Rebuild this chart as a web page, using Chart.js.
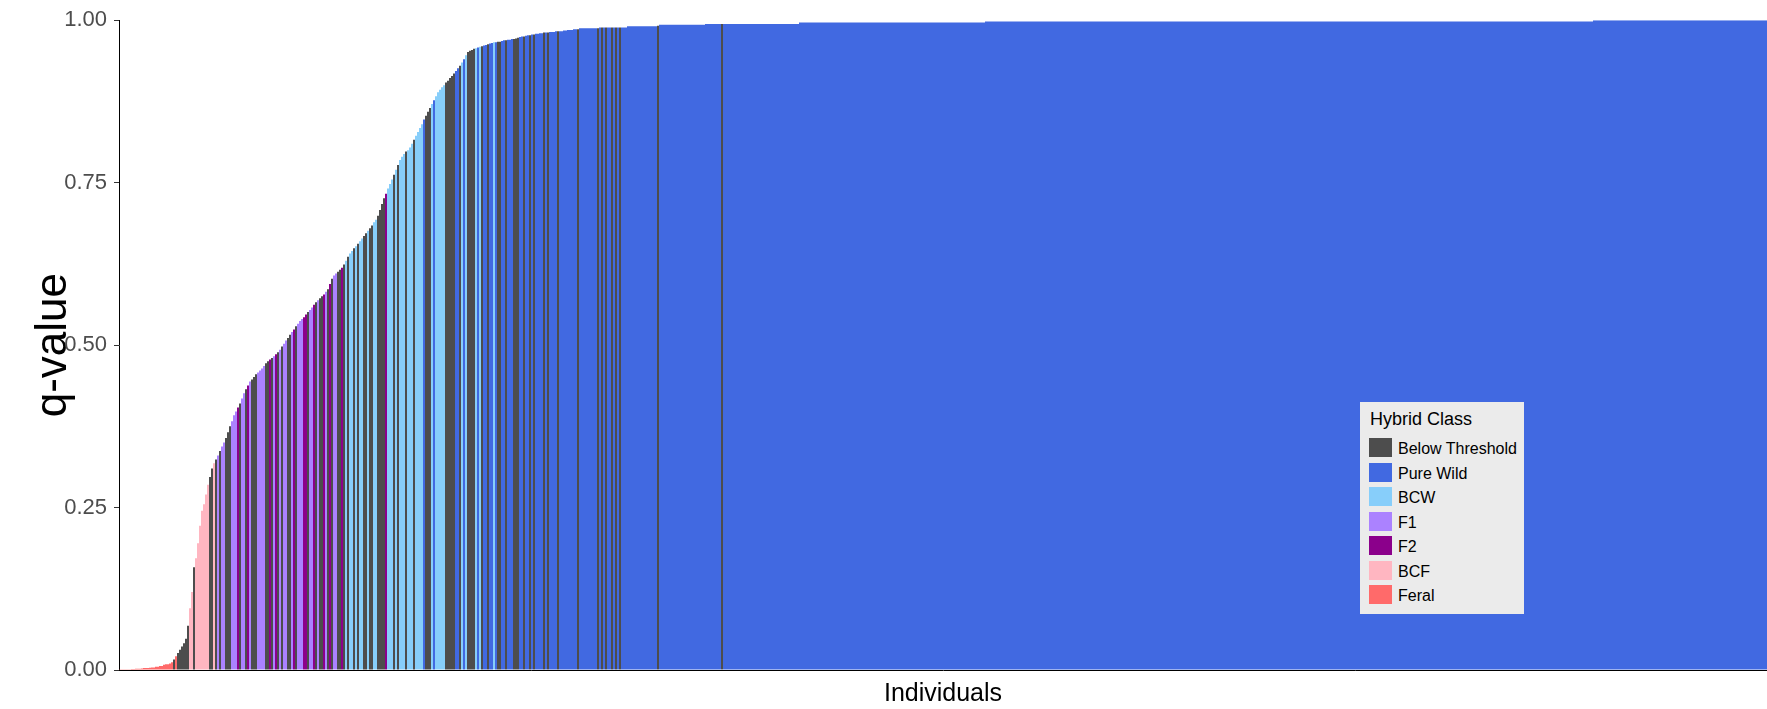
<!DOCTYPE html>
<html><head><meta charset="utf-8">
<script src="https://cdn.jsdelivr.net/npm/chart.js@4.4.1/dist/chart.umd.min.js"></script>
<style>
html,body{margin:0;padding:0;background:#fff;}
#wrap{position:relative;width:1767px;height:709px;overflow:hidden;}
canvas{display:block;}
#legend{position:absolute;left:1360px;top:402px;width:164px;height:212px;background:#ebebeb;font-family:"Liberation Sans",Arial,sans-serif;color:#000;}
#legend .ttl{position:absolute;left:10px;top:7px;font-size:18px;line-height:20px;white-space:nowrap;}
#legend .sw{position:absolute;left:9px;width:23px;height:19px;}
#legend .lb{position:absolute;left:38px;font-size:16px;line-height:19px;white-space:nowrap;}
</style></head><body>
<div id="wrap"><canvas id="c" width="1767" height="709"></canvas><div id="legend"></div></div>
<script>
// ---- DATA ----
const classNames = ['Below Threshold','Pure Wild','BCW','F1','F2','BCF','Feral'];
const classCodes = ['D','W','B','1','2','P','R'];

// individuals on the rising part of the curve (one value per individual, sorted)
const riseQ = [
0.001,0.001,0.001,0.001,0.001,0.001,0.0015,0.0015,0.002,0.002,
0.002,0.0025,0.003,0.003,0.003,0.0035,0.004,0.004,0.005,0.005,
0.006,0.006,0.008,0.009,0.009,0.01,0.012,0.016,0.021,0.026,
0.031,0.036,0.041,0.048,0.068,0.095,0.12,0.158,0.172,0.195,
0.222,0.245,0.255,0.27,0.285,0.297,0.31,0.318,0.324,0.33,
0.337,0.344,0.35,0.357,0.366,0.375,0.383,0.392,0.398,0.404,
0.41,0.418,0.426,0.432,0.438,0.444,0.447,0.451,0.455,0.458,
0.461,0.464,0.468,0.472,0.475,0.478,0.48,0.483,0.486,0.489,
0.493,0.498,0.502,0.507,0.511,0.516,0.52,0.524,0.529,0.533,
0.537,0.54,0.543,0.547,0.551,0.554,0.558,0.562,0.566,0.569,
0.572,0.575,0.578,0.582,0.586,0.594,0.602,0.607,0.61,0.613,
0.616,0.619,0.624,0.63,0.636,0.641,0.645,0.649,0.652,0.656,
0.66,0.664,0.668,0.672,0.676,0.68,0.684,0.689,0.693,0.699,
0.708,0.717,0.726,0.733,0.741,0.748,0.755,0.762,0.77,0.777,
0.785,0.79,0.794,0.798,0.8,0.804,0.81,0.816,0.822,0.828,
0.834,0.84,0.847,0.853,0.859,0.865,0.871,0.877,0.883,0.889,
0.893,0.897,0.9,0.904,0.907,0.911,0.914,0.918,0.922,0.926,
0.93,0.935,0.94,0.946,0.951,0.953,0.954,0.956,0.957,0.958,
0.959,0.96,0.961,0.962,0.963,0.964,0.965,0.966,0.966,0.967,
0.967,0.968,0.969,0.969,0.97,0.97,0.971,0.971,0.972,0.973,
0.974,0.975,0.975,0.976,0.977,0.977,0.978,0.978,0.979,0.979,
0.98,0.98,0.981,0.981,0.981,0.982,0.982,0.982,0.983,0.983,
0.983,0.983,0.984,0.984,0.985,0.985,0.985,0.986,0.986,0.986
];
// class code of each individual above (D=Below Threshold, W=Pure Wild, B=BCW, 1=F1, 2=F2, P=BCF, R=Feral)
const riseClass = [
"RRRRRRRRRRRRRRRRRRRRRRRRRRR",
"DRDDDDDD",
"PPDPPPPPPP",
"DDPD",
"1D11DDD1112D","11D21DDD1111","DD2D12D1D11D","D12D11122D11",
"2D1DD21D2D11","DD2DBDBBDBDB","BDDBDDBBDDDD","2BBBDBDBBBDB",
"BBDBBBBWDDDB","WBBBBBDDDDDW","WDBWBDDDDBWB","DWWDWWBWDDWW",
"DWWWDDDWWDWW","DWDWWWWDWDWW","WWDWWWWWWWWWD"
].join('');

// plateau of near-1 individuals: q-value, number of individuals, class code
const tailQ     = [0.9875,0.9875,0.9887,0.9887,0.9887,0.9887,0.9887,0.9887,0.9887,0.9887,0.9887,0.9887,0.9887,0.9908,0.9915,0.993,0.9943,0.9943,0.9943,0.9965,0.998,1.0];
const tailCount = [9,1,1,1,1,1,2,1,1,1,1,1,3,15,1,23,8,1,38,93,304,87];
const tailClass = "WDWDWDWDWDWDWWDWWDWWWW";

const yTickValues = [0, 0.25, 0.5, 0.75, 1];
const yTickLabels = ['0.00','0.25','0.50','0.75','1.00'];

// ---- STYLE ----
const classColors = {D:'#4D4D4D', W:'#4169E1', B:'#87CEFA', '1':'#AB82FF', '2':'#8B008B', P:'#FFB6C1', R:'#FF6A6A'};
const FONT = '"Liberation Sans", Arial, sans-serif';

// ---- BUILD ----
const qValues = riseQ.slice();
const codes = riseClass.split('');
tailQ.forEach((q, k) => { for (let j = 0; j < tailCount[k]; j++) { qValues.push(q); codes.push(tailClass[k]); } });
const labels = qValues.map((_, i) => 'Ind ' + (i + 1));

new Chart(document.getElementById('c').getContext('2d'), {
  type: 'bar',
  data: { labels, datasets: [{
    data: qValues,
    backgroundColor: codes.map(c => classColors[c]),
    borderWidth: 0, barPercentage: 1, categoryPercentage: 1, inflateAmount: 0
  }]},
  options: {
    responsive: false, animation: false, devicePixelRatio: 1,
    layout: { padding: { top: 20, right: 0, left: 0, bottom: 0 } },
    plugins: { legend: { display: false }, tooltip: { enabled: false } },
    scales: {
      x: {
        ticks: { display: false },
        grid: { display: false, drawTicks: false },
        border: { display: true, color: '#000', width: 1 },
        title: { display: true, text: 'Individuals', color: '#000', font: { family: FONT, size: 25 }, padding: { top: 0, bottom: 0 } },
        afterFit(s) { s.height = 39; }
      },
      y: {
        min: 0, max: 1,
        afterBuildTicks(s) { s.ticks = yTickValues.map(v => ({ value: v })); },
        ticks: { callback: (v, i) => yTickLabels[i], color: '#4D4D4D', font: { family: FONT, size: 22 }, padding: 7 },
        grid: { display: true, drawOnChartArea: false, drawTicks: true, tickLength: 5, color: '#333', lineWidth: 1 },
        border: { display: true, color: '#000', width: 1 },
        title: { display: true, text: 'q-value', color: '#000', font: { family: FONT, size: 44 }, padding: { top: 27, bottom: 0 } },
        afterFit(s) { s.width = 119; }
      }
    }
  }
});

// ---- LEGEND ----
const leg = document.getElementById('legend');
const t = document.createElement('div'); t.className = 'ttl'; t.textContent = 'Hybrid Class'; leg.appendChild(t);
classNames.forEach((name, k) => {
  const top = 36 + k * 24.5;
  const sw = document.createElement('div'); sw.className = 'sw'; sw.style.top = top + 'px'; sw.style.background = classColors[classCodes[k]]; leg.appendChild(sw);
  const lb = document.createElement('div'); lb.className = 'lb'; lb.style.top = (top + 1) + 'px'; lb.textContent = name; leg.appendChild(lb);
});
</script>
</body></html>
